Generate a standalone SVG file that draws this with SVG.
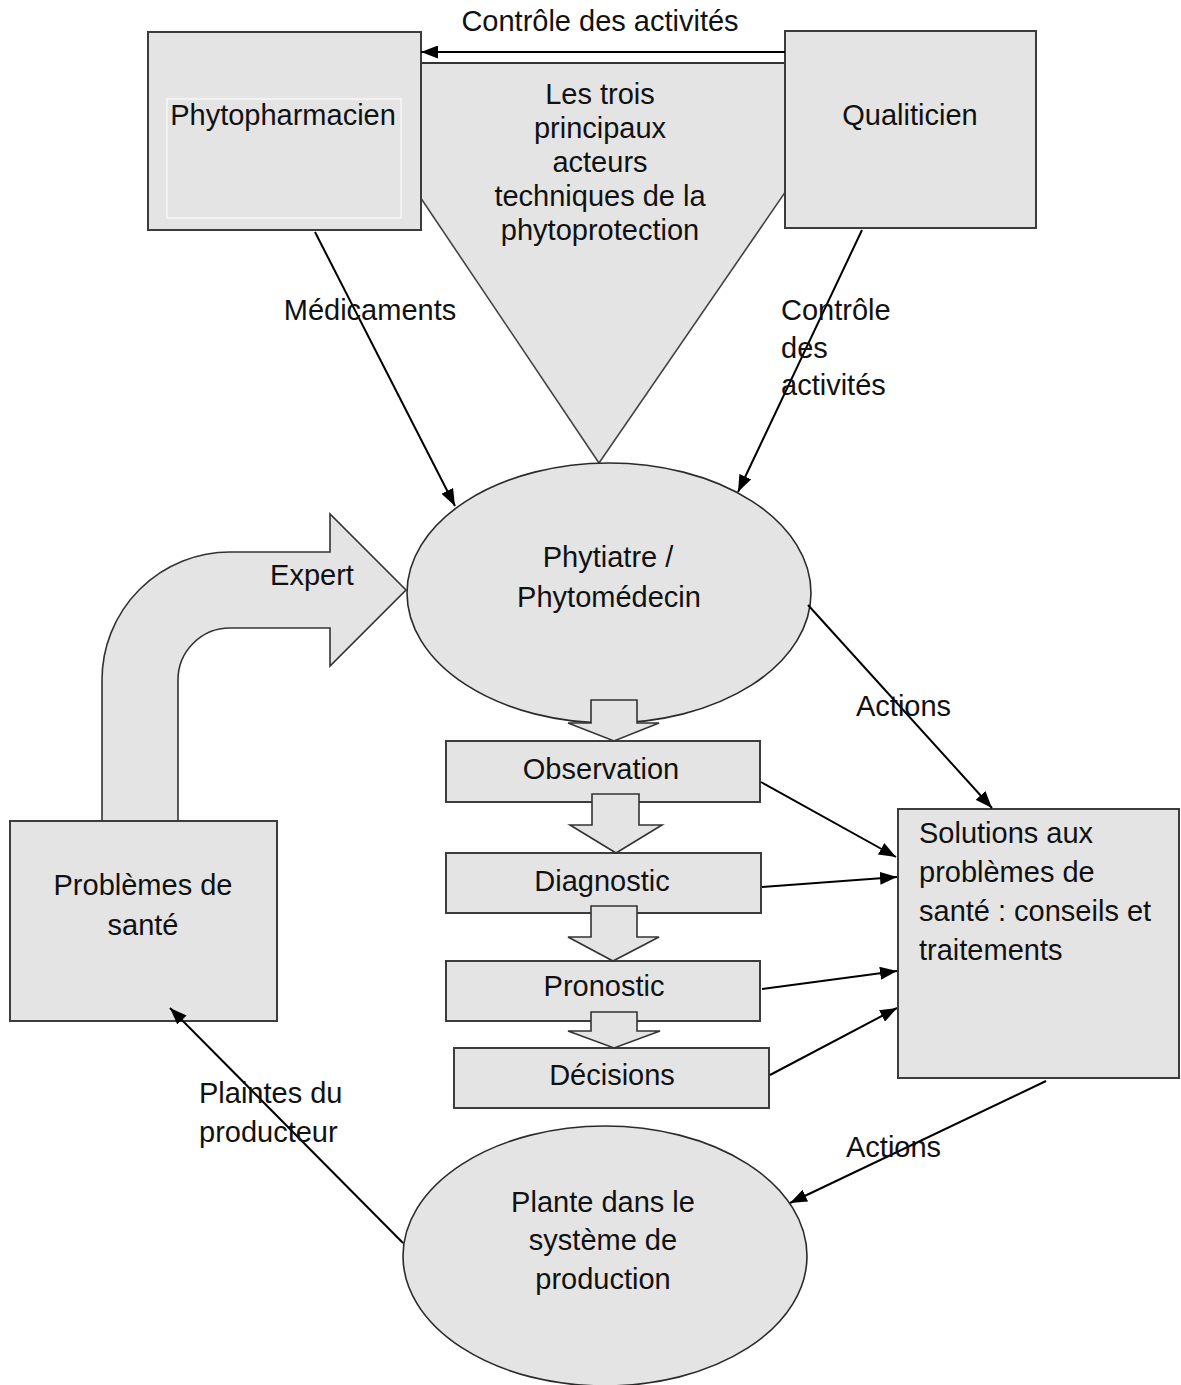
<svg xmlns="http://www.w3.org/2000/svg" width="1181" height="1385" viewBox="0 0 1181 1385">
<defs>
<marker id="ah" viewBox="0 0 17 13" refX="17" refY="6.5" markerWidth="17" markerHeight="13" orient="auto" markerUnits="userSpaceOnUse"><path d="M0,0 L17,6.5 L0,13 Z" fill="#000"/></marker>
<style>
text{font-family:"Liberation Sans",Arial,sans-serif;font-size:29px;fill:#111}
.c{text-anchor:middle}
.box{fill:#e4e4e4;stroke:#3c3c3c;stroke-width:2}
.ell{fill:#e4e4e4;stroke:#2a2a2a;stroke-width:1.6}
.blk{fill:#e4e4e4;stroke:#333;stroke-width:1.6}
.con{fill:none;stroke:#000;stroke-width:2}
</style>
</defs>
<rect width="1181" height="1385" fill="#fff"/>

<g id="triangle">
<polygon points="330,63 874,63 599,463" fill="#e4e4e4" stroke="#444" stroke-width="1.6"/>
<line x1="421" y1="63" x2="785" y2="63" stroke="#333" stroke-width="2"/>
<text class="c" x="600" y="104">Les trois</text>
<text class="c" x="600" y="138">principaux</text>
<text class="c" x="600" y="172">acteurs</text>
<text class="c" x="600" y="206">techniques de la</text>
<text class="c" x="600" y="240">phytoprotection</text>
</g>

<g id="phytopharmacien">
<rect class="box" x="148" y="32" width="273" height="198"/>
<rect x="167" y="99" width="234" height="119" fill="none" stroke="#f6f6f6" stroke-width="1.5"/>
<text class="c" x="283" y="125">Phytopharmacien</text>
</g>

<g id="qualiticien">
<rect class="box" x="785" y="31" width="251" height="197"/>
<text class="c" x="910" y="125">Qualiticien</text>
</g>

<g id="expert">
<path class="blk" d="M102,821 L102,680 A128,128 0 0 1 230,552 L330,552 L330,514 L406,590 L330,666 L330,628 L230,628 A52,52 0 0 0 178,680 L178,821 Z"/>
<text class="c" x="312" y="585">Expert</text>
</g>

<g id="phytiatre">
<ellipse class="ell" cx="609" cy="593" rx="202" ry="130"/>
<text class="c" x="608" y="567">Phytiatre /</text>
<text class="c" x="609" y="607">Phytomédecin</text>
</g>

<g id="probleme">
<rect class="box" x="10" y="821" width="267" height="200"/>
<text class="c" x="143" y="895">Problèmes de</text>
<text class="c" x="143" y="935">santé</text>
</g>

<g id="observation">
<rect class="box" x="446" y="741" width="314" height="61"/>
<text class="c" x="601" y="779">Observation</text>
</g>
<g id="diagnostic">
<rect class="box" x="446" y="853" width="315" height="60"/>
<text class="c" x="602" y="891">Diagnostic</text>
</g>
<g id="pronostic">
<rect class="box" x="446" y="961" width="314" height="60"/>
<text class="c" x="604" y="996">Pronostic</text>
</g>
<g id="decisions">
<rect class="box" x="454" y="1048" width="315" height="60"/>
<text class="c" x="612" y="1085">Décisions</text>
</g>

<g id="steps">
<path class="blk" d="M591,700 L637,700 L637,723 L659,723 L614,741 L568,723 L591,723 Z"/>
<path class="blk" d="M592,794 L639,794 L639,825 L662,825 L616,853 L570,825 L592,825 Z"/>
<path class="blk" d="M591,906 L637,906 L637,937 L659,937 L613,961 L568,937 L591,937 Z"/>
<path class="blk" d="M591,1012 L637,1012 L637,1031 L660,1031 L614,1048 L568,1031 L591,1031 Z"/>
</g>

<g id="solutions">
<rect class="box" x="898" y="809" width="281" height="269"/>
<text x="919" y="843">Solutions aux</text>
<text x="919" y="882">problèmes de</text>
<text x="919" y="921">santé : conseils et</text>
<text x="919" y="960">traitements</text>
</g>

<g id="plante">
<ellipse class="ell" cx="605" cy="1256" rx="202" ry="130"/>
<text class="c" x="603" y="1212">Plante dans le</text>
<text class="c" x="603" y="1250">système de</text>
<text class="c" x="603" y="1289">production</text>
</g>

<g id="connectors">
<line class="con" x1="785" y1="52" x2="421" y2="52" marker-end="url(#ah)"/>
<line class="con" x1="315" y1="232" x2="455" y2="506" marker-end="url(#ah)"/>
<line class="con" x1="862" y1="230" x2="738" y2="492" marker-end="url(#ah)"/>
<line class="con" x1="808" y1="605" x2="992" y2="808" marker-end="url(#ah)"/>
<line class="con" x1="761" y1="782" x2="896" y2="857" marker-end="url(#ah)"/>
<line class="con" x1="762" y1="887" x2="897" y2="877" marker-end="url(#ah)"/>
<line class="con" x1="762" y1="989" x2="897" y2="971" marker-end="url(#ah)"/>
<line class="con" x1="770" y1="1075" x2="897" y2="1008" marker-end="url(#ah)"/>
<line class="con" x1="1046" y1="1081" x2="790" y2="1203" marker-end="url(#ah)"/>
<line class="con" x1="403" y1="1243" x2="170" y2="1008" marker-end="url(#ah)"/>
</g>

<g id="labels">
<text class="c" x="600" y="31">Contrôle des activités</text>
<text class="c" x="370" y="320">Médicaments</text>
<text x="781" y="320">Contrôle</text>
<text x="781" y="358">des</text>
<text x="781" y="395">activités</text>
<text x="856" y="716">Actions</text>
<text x="846" y="1157">Actions</text>
<text x="199" y="1103">Plaintes du</text>
<text x="199" y="1142">producteur</text>
</g>
</svg>
